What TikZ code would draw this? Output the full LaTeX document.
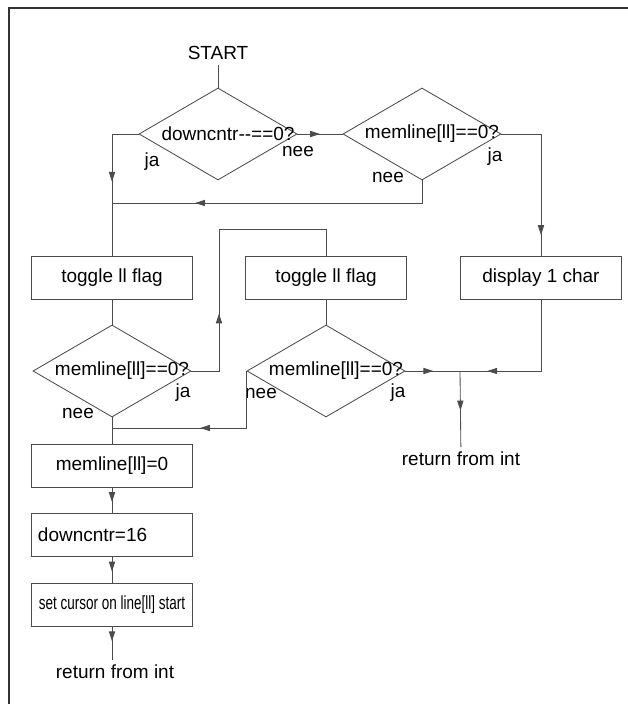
\documentclass[tikz,border=0pt]{standalone}
\usepackage{fontspec}
\setmainfont{Liberation Sans}
\usepackage{graphicx}
\usetikzlibrary{shapes.geometric, arrows.meta, decorations.markings}

\begin{document}
\begin{tikzpicture}[
        x=0.025cm, y=-0.025cm, % 1 единица = 1 пиксель
        font=\fontsize{13.5}{16}\selectfont,
        line/.style = {draw=black!70, line width=0.6pt},
        box/.style = {rectangle, draw=black!70, line width=0.6pt, minimum width=4.025cm, minimum height=1.075cm, inner sep=0pt}, % блок действия
        decision/.style = {diamond, draw=black!70, line width=0.6pt, minimum width=3.95cm, minimum height=2.3cm, inner sep=0pt}, % ромб условия
        tag/.style = {inner sep=1pt}, % подписи ja / nee
        arrowat/.style = {postaction={decorate}, decoration={markings, mark=at position #1 with {\arrow{Triangle[length=7pt,width=4.4pt]}}}},
    ]
    \useasboundingbox (0,0) rectangle (628,704);
    \draw[black!80, line width=1.4pt] (9,704) -- (9,8) -- (628,8);

    % верхний ряд
    \node (start) at (218,53) {START};
    \node[decision] (d1) at (218,134) {};
    \node[decision] (d2) at (422,134) {};
    \node (d1t) at ([shift={(10,0)}]d1.center) {downcntr-{}-==0?};
    \node (d2t) at ([shift={(10,0)}]d2.center) {memline[ll]==0?};

    % блоки
    \node[box] (b1) at (112,278) {toggle ll flag};
    \node[box] (b2) at (326,278) {toggle ll flag};
    \node[box] (b3) at (541,278) {display 1 char};
    \node[decision] (d3) at (112,371) {};
    \node[decision] (d4) at (326,371) {};
    \node (d3t) at ([shift={(10,0)}]d3.center) {memline[ll]==0?};
    \node (d4t) at ([shift={(10,0)}]d4.center) {memline[ll]==0?};
    \node[box] (b4) at (112,466) {memline[ll]=0};
    \node[box, text width=3.7cm, align=left, inner xsep=0.15cm] (b5) at (112,535) {downcntr=16\\[-2pt]};
    \node[box] (b6) at (112,605) {\scalebox{0.71}[1]{set cursor on line[ll] start}};
    \node (r1) at (115,672) {return from int};
    \node (r2) at (461,459) {return from int};

    \coordinate (jl) at (112,203);
    \coordinate (jt) at (219,229);
    \coordinate (jm) at (112,428);
    \coordinate (jr) at (460,371);

    % подписи ветвей
    \node[tag] (ja1) at (152,162) {ja};
    \node[tag] (nee1) at (298,151) {nee};
    \node[tag] (nee2) at (388,177) {nee};
    \node[tag] (ja2) at (495,157) {ja};
    \node[tag] (ja3) at (183,393) {ja};
    \node[tag] (nee3) at (78,413) {nee};
    \node[tag] (nee4) at (261,393) {nee};
    \node[tag] (ja4) at (398,393) {ja};

    % связи
    \draw[line] (start) -- (d1.north);
    \draw[line, arrowat=0.5] (d1.east) -- (d2.west);
    \draw[line, arrowat=0.5] (d1.west) -| (b1.north);
    \draw[line, arrowat=0.75] (d2.south) |- (jl);
    \draw[line, arrowat=0.87] (d2.east) -| (b3.north);
    \draw[line] (b1) -- (d3);
    \draw[line, arrowat=0.28] (d3.east) -| (jt) -| (b2.north);
    \draw[line] (b2) -- (d4);
    \draw[line, arrowat=0.54] (d4.west) |- (jm);
    \draw[line, arrowat=0.82] (b3.south) |- (jr);
    \draw[line, arrowat=0.51] (d4.east) -- (jr);
    \draw[line, arrowat=0.52] (jr) -- (r2);
    \draw[line] (d3) -- (b4);
    \draw[line, arrowat=0.56] (b4) -- (b5);
    \draw[line, arrowat=0.56] (b5) -- (b6);
    \draw[line, arrowat=0.43] (b6.south) -- (b6.south |- r1.north);
\end{tikzpicture}
\end{document}
